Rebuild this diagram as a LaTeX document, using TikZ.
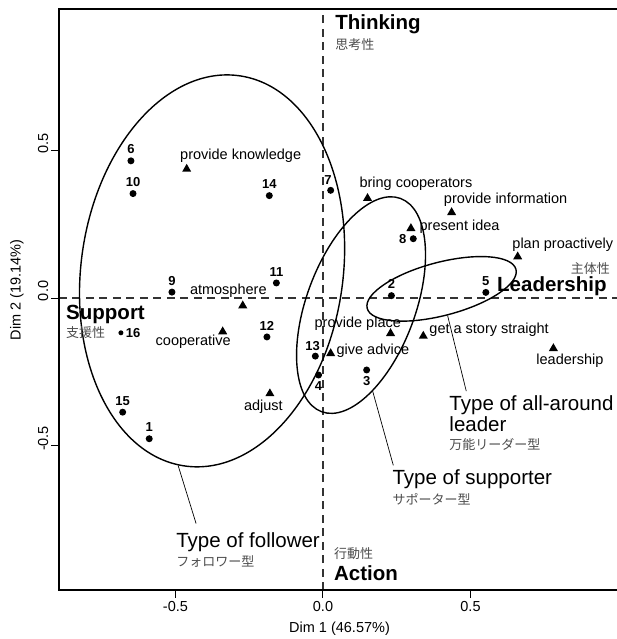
\documentclass[tikz,border=0pt]{standalone}
\usepackage{fontspec}
\setmainfont{Liberation Sans}
\newfontfamily\jpfont{Noto Sans CJK JP}
\usetikzlibrary{shapes.geometric}
\tikzset{
  dot/.style={circle, fill, inner sep=0pt, minimum size=7pt},
  tri/.style={regular polygon, regular polygon sides=3, fill, inner sep=0pt, minimum size=10.5pt},
  num/.style={font=\fontsize{13}{14}\selectfont\bfseries, inner sep=3pt},
  lab/.style={font=\fontsize{14.5}{16}\selectfont, inner sep=0pt},
  pole/.style={font=\fontsize{20.5}{22}\selectfont\bfseries, inner sep=0pt},
  jp/.style={font=\fontsize{13}{15}\selectfont\jpfont, text=black!70, inner sep=0pt},
  grp/.style={font=\fontsize{20.5}{21}\selectfont, inner sep=0pt, align=left},
  grpline/.style={draw, ellipse, line width=1.4pt, inner sep=0pt},
  axlab/.style={font=\fontsize{14.5}{16}\selectfont, inner sep=0pt},
  dimline/.style={dash pattern=on 8pt off 5.5pt, line width=1.2pt, black!80},
  leader/.style={line width=0.7pt},
}
\begin{document}
\begin{tikzpicture}[x=295pt, y=295pt]
  \def\xl{-0.895}
  \def\xr{0.9966}
  \def\yt{0.98}
  \def\yb{-0.99}
  \useasboundingbox (-1.0949,-1.1559) rectangle (0.9966,1.0102);
  % dimensions through the origin
  \draw[dimline] (0,\yb) -- (0,\yt);
  \draw[dimline] (\xl,0) -- (\xr,0);
  \draw[line width=1.3pt] (\xr,\yt) -| (\xl,\yb) -- (\xr,\yb);
  \foreach \t/\s [count=\i] in {-0.5/-0.5, 0/0.0, 0.5/0.5} {
    \draw[line width=1pt] (\t,\yb) -- ++(0,-8pt);
    \node[axlab] (xt\i) at (\t,-1.047) {\s};
    \draw[line width=1pt] (\xl,\t) -- ++(-8pt,0);
    \node[axlab, rotate=90] (yt\i) at (-0.949,\t+0.024) {\s};
  }
  \node[axlab] (xlab) at (0.056,-1.122) {Dim 1 (46.57\%)};
  \node[axlab, rotate=90] (ylab) at (-1.038,0.027) {Dim 2 (19.14\%)};

  \node[grpline, minimum width=262pt, minimum height=394pt, rotate=-7.9] (follower) at (-0.376,0.092) {};
  \node[grpline, minimum width=227.4pt, minimum height=108.8pt, rotate=69.7] (supporter) at (0.129,-0.024) {};
  \node[grpline, minimum width=153.8pt, minimum height=53.2pt, rotate=14.7] (allround) at (0.402,0.031) {};

  \foreach \n/\x/\y/\a/\b in {1/-0.589/-0.477/south/north, 2/0.232/0.008/south/north,
      3/0.148/-0.244/north/south, 4/-0.015/-0.261/north/south, 5/0.552/0.019/south/north,
      6/-0.651/0.465/south/north, 7/0.026/0.365/south/north west, 8/0.306/0.201/east/west,
      9/-0.512/0.020/south/north, 10/-0.644/0.354/south/north, 11/-0.158/0.051/south/north,
      12/-0.190/-0.132/south/north, 13/-0.026/-0.197/south/north west,
      14/-0.182/0.347/south/north, 15/-0.679/-0.387/south/north} {
    \node[dot] (p\n) at (\x,\y) {};
    \node[num, anchor=\a] (n\n) at (p\n.\b) {\n};
  }
  \node[dot, minimum size=5pt] (p16) at (-0.685,-0.118) {};
  \node[num, anchor=west, inner sep=2pt] (n16) at (p16.east) {16};

  \foreach \id/\x/\y/\lx/\ly/\txt in {know/-0.462/0.437/-0.279/0.482/provide knowledge,
      atmo/-0.272/-0.026/-0.321/0.024/atmosphere, coop/-0.340/-0.114/-0.440/-0.149/cooperative,
      adj/-0.180/-0.324/-0.202/-0.368/adjust, advice/0.026/-0.188/0.169/-0.180/give advice,
      place/0.229/-0.120/0.118/-0.086/provide place, story/0.340/-0.129/0.563/-0.108/get a story straight,
      bring/0.151/0.338/0.315/0.386/bring cooperators, idea/0.298/0.236/0.463/0.242/present idea,
      info/0.436/0.290/0.619/0.332/provide information, plan/0.660/0.140/0.813/0.182/plan proactively,
      lead/0.781/-0.171/0.837/-0.212/leadership} {
    \node[tri] (t-\id) at (\x,\y) {};
    \node[lab] (l-\id) at (\lx,\ly) {\txt};
  }

  \node[pole, anchor=west] (think) at (0.041,0.929) {Thinking};
  \node[jp, anchor=west] (think-jp) at (0.041,0.858) {思考性};
  \node[pole, anchor=east] (leadp) at (0.962,0.041) {Leadership};
  \node[jp, anchor=east] (leadp-jp) at (0.973,0.101) {主体性};
  \node[pole, anchor=west] (supp) at (-0.871,-0.055) {Support};
  \node[jp, anchor=west] (supp-jp) at (-0.871,-0.118) {支援性};
  \node[jp, anchor=west] (act-jp) at (0.037,-0.868) {行動性};
  \node[pole, anchor=west] (act) at (0.037,-0.933) {Action};

  \node[grp, anchor=west] (fol) at (-0.498,-0.828) {Type of follower};
  \node[jp, anchor=west] (fol-jp) at (-0.498,-0.894) {フォロワー型};
  \node[grp, anchor=west] (sup) at (0.235,-0.614) {Type of supporter};
  \node[jp, anchor=west] (sup-jp) at (0.235,-0.681) {サポーター型};
  \node[grp, anchor=north west] (all) at (0.428,-0.329) {Type of all-around\\leader};
  \node[jp, anchor=west] (all-jp) at (0.428,-0.496) {万能リーダー型};

  \draw[leader] (follower.268) -- ([shift={(20pt,9pt)}]fol.north west);
  \draw[leader] (supporter.208) -- ([shift={(1pt,4pt)}]sup.north west);
  \draw[leader] (allround.268) -- ([shift={(17pt,4pt)}]all.north west);
\end{tikzpicture}
\end{document}
